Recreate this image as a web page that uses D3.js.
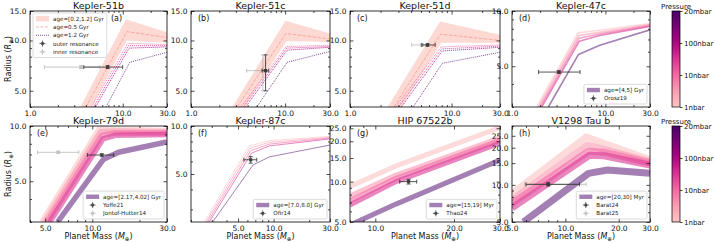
<!DOCTYPE html>
<html>
<head>
<meta charset="utf-8">
<script src="https://cdn.jsdelivr.net/npm/d3@7"></script>
<style>
  body { margin: 0; background: #fff; }
  svg { font-family: "DejaVu Sans", sans-serif; }
</style>
</head>
<body>
<svg id="fig" width="714" height="243"></svg>
<script>
// ---- panel meta ----
const titles = ["Kepler-51b", "Kepler-51c", "Kepler-51d", "Kepler-47c",
                "Kepler-79d", "Kepler-87c", "HIP 67522b", "V1298 Tau b"];
const letters = ["(a)", "(b)", "(c)", "(d)", "(e)", "(f)", "(g)", "(h)"];
const xDomains = [[1, 30], [1, 30], [1, 30], [1, 30], [4, 30], [2, 30], [8, 30], [5, 30]];
const yDomains = [[4, 15], [4, 15], [4, 15], [3, 10], [3, 10], [2.5, 10], [5, 26], [5, 30]];
const xTicks = [[1, 10, 30], [1, 10, 30], [1, 10, 30], [1, 10, 30], [5, 10, 30], [5, 10, 30], [10, 20, 30], [5, 10, 20, 30]];
const yTicks = [[5, 10, 15], [5, 10, 15], [5, 10, 15], [5, 10], [5, 10], [5, 10], [5, 10, 15, 20, 25], [5, 10, 15, 20, 25]];
const ageLabels = ["age=[0.2,1.2] Gyr", "", "", "age=[4,5] Gyr", "age=[2.17,4.02] Gyr",
                   "age=[7.0,8.0] Gyr", "age=[15,19] Myr", "age=[20,30] Myr"];
const obsLabels = [["outer resonance", "inner resonance"], [], [], ["Orosz19"],
                   ["Yoffe21", "Jontof-Hutter14"], ["Ofir14"], ["Thao24"], ["Barat24", "Barat25"]];
const pressureLabels = ["1nbar", "10nbar", "100nbar", "20mbar"];

// ---- model curves, [mass, radius] ----
// Kepler-51b
const k51bBandHi = [[3.5, 4], [10.8, 13.4], [30, 11.2]];
const k51bBandLo = [[4.6, 4], [11.0, 10.0], [30, 9.7]];
const k51bDashed = [[4.0, 4], [11.1, 11.3], [30, 10.4]];
const k51bDotted = [
  [[4.6, 4], [11.3, 9.6], [30, 9.45]],
  [[4.85, 4], [11.5, 9.3], [30, 9.3]],
  [[5.1, 4], [11.7, 9.0], [30, 9.15]],
  [[6.6, 4], [11.9, 7.4], [30, 8.5]]
];
// Kepler-51c
const k51cBandHi = [[2.75, 4], [10.1, 13.1], [30, 11.0]];
const k51cBandLo = [[3.7, 4], [10.3, 9.9], [30, 9.8]];
const k51cDashed = [[3.1, 4], [10.2, 11.0], [30, 10.2]];
const k51cDotted = [
  [[3.4, 4], [10.3, 9.2], [30, 9.35]],
  [[3.6, 4], [10.4, 9.0], [30, 9.2]],
  [[3.8, 4], [10.5, 8.75], [30, 9.1]],
  [[5.0, 4], [10.5, 7.4], [30, 8.6]]
];
// Kepler-51d
const k51dBandHi = [[2.35, 4], [7.7, 13.0], [30, 10.8]];
const k51dBandLo = [[3.2, 4], [7.9, 9.7], [30, 9.7]];
const k51dDashed = [[2.7, 4], [7.8, 10.9], [30, 10.0]];
const k51dDotted = [
  [[2.8, 4], [7.9, 9.15], [30, 9.4]],
  [[3.0, 4], [8.0, 8.9], [30, 9.25]],
  [[3.2, 4], [8.1, 8.65], [30, 9.1]],
  [[4.2, 4], [8.1, 7.3], [30, 8.5]]
];
// Kepler-47c
const k47cLines = [
  [[1.84, 3], [5.1, 7.6], [8.7, 7.85], [30, 8.55]],
  [[1.92, 3], [5.15, 7.35], [8.7, 7.65], [30, 8.45]],
  [[2.0, 3], [5.2, 7.1], [8.7, 7.5], [30, 8.35]],
  [[2.08, 3], [5.25, 6.85], [8.7, 7.35], [30, 8.25]],
  [[2.45, 3], [5.15, 5.8], [8.7, 6.5], [30, 7.9]]
];
// Kepler-79d
const k79dBands = [
  [[4.75, 3], [11.1, 9.7], [14, 9.6], [30, 9.45]],
  [[4.95, 3], [11.3, 9.3], [14, 9.4], [30, 9.3]],
  [[5.15, 3], [11.5, 8.9], [14, 9.15], [30, 9.15]],
  [[5.35, 3], [11.7, 8.5], [14, 8.9], [30, 9.0]],
  [[6.0, 3], [11.8, 6.6], [14.7, 7.2], [30, 8.2]]
];
// Kepler-87c
const k87cLines = [
  [[2.6, 2.5], [6.2, 7.5], [9.2, 8.1], [30, 8.6]],
  [[2.68, 2.5], [6.3, 7.25], [9.2, 7.9], [30, 8.5]],
  [[2.76, 2.5], [6.4, 7.0], [9.2, 7.7], [30, 8.4]],
  [[2.85, 2.5], [6.5, 6.75], [9.2, 7.5], [30, 8.3]],
  [[3.05, 2.5], [6.7, 5.7], [9.2, 6.4], [30, 7.6]]
];
// HIP 67522b
const hipBands = [
  [[8, 9.2], [12, 13.1], [30, 25.3]],
  [[8, 7.8], [12, 11.2], [30, 21.2]],
  [[8, 7.2], [12, 10.6], [30, 20.3]],
  [[8, 6.7], [12, 10.0], [30, 19.4]],
  [[8, 4.75], [12, 6.8], [30, 14.5]]
];
// V1298 Tau b
const v1298Bands = [
  [[5, 8.5], [13.1, 24.4], [30, 16.0]],
  [[5, 7.5], [13.3, 21.0], [30, 15.4]],
  [[5, 7.1], [13.5, 18.7], [16.5, 18.4], [30, 15.0]],
  [[5, 6.5], [13.7, 17.4], [16.5, 17.2], [30, 14.5]],
  [[5.8, 5], [13.5, 12.4], [17.3, 13.2], [30, 12.4]]
];

// ---- observations: [mass, mass lo, mass hi, radius, radius lo, radius hi] ----
const k51bOuter = [6.87, 3.8, 9.97, 6.93, 6.8, 7.06];
const k51bInner = [3.55, 1.43, 5.67, 6.93, 6.8, 7.06];
const k51cOuter = [6.2, 5.7, 6.7, 6.6, 5.0, 8.2];
const k51cInner = [5.8, 3.9, 6.3, 6.6, 5.0, 8.2];
const k51dOuter = [5.8, 5.1, 6.9, 9.4, 9.25, 9.55];
const k51dInner = [5.1, 4.05, 5.8, 9.4, 9.25, 9.55];
const k47cOrosz19 = [3.17, 1.92, 5.35, 4.65, 4.57, 4.73];
const k79dYoffe21 = [11.5, 9.3, 13.7, 6.95, 6.85, 7.05];
const k79dJontof14 = [6.05, 4.47, 8.2, 7.19, 7.09, 7.29];
const k87cOfir14 = [6.4, 5.6, 7.2, 6.14, 5.85, 6.43];
const hipThao24 = [13.4, 12.4, 14.4, 10.0, 9.6, 10.4];
const v1298Barat24 = [8.0, 6.0, 12.0, 10.1, 9.8, 10.4];
const v1298Barat25 = [8.0, 5.9, 13.1, 10.1, 9.8, 10.4];

const panels = [
  { kind: "res", bandHi: k51bBandHi, bandLo: k51bBandLo, dashed: k51bDashed, dotted: k51bDotted, obs: [k51bOuter, k51bInner] },
  { kind: "res", bandHi: k51cBandHi, bandLo: k51cBandLo, dashed: k51cDashed, dotted: k51cDotted, obs: [k51cOuter, k51cInner] },
  { kind: "res", bandHi: k51dBandHi, bandLo: k51dBandLo, dashed: k51dDashed, dotted: k51dDotted, obs: [k51dOuter, k51dInner] },
  { kind: "lines", lines: k47cLines, obs: [k47cOrosz19] },
  { kind: "lines", lines: k79dBands, obs: [k79dYoffe21, k79dJontof14] },
  { kind: "lines", lines: k87cLines, obs: [k87cOfir14] },
  { kind: "lines", lines: hipBands, obs: [hipThao24] },
  { kind: "lines", lines: v1298Bands, obs: [v1298Barat24, v1298Barat25] }
];

// ---- layout ----
const boxes = [
  [30, 167, 11, 107], [191, 330, 11, 107], [350, 500, 11, 107], [512, 650, 11, 107],
  [30, 167, 126, 222], [191, 330, 126, 222], [350, 500, 126, 222], [512, 650, 126, 222]
];
const lineWidths = [1, 1, 1, 1.6, 5.5, 1.0, 5, 7];
const pinkT = [0.25, 0.38, 0.5, 0.62, 1.0];
const dotT = [0.5, 0.62, 0.74, 1.0];
const cbBoxes = [[672, 680, 11, 107], [672, 680, 126, 222]];

const svg = d3.select("#fig");
const defs = svg.append("defs");
const fmt = d3.format(".1f");
const cmap = t => d3.interpolateRdPu(t);
const SALMON = "#fa8072";

function minorTicks(dom, majors) {
  const out = [];
  for (let e = -1; e <= 3; e++) {
    for (let k = 1; k <= 9; k++) {
      const v = Math.round(k * Math.pow(10, e) * 1000) / 1000;
      if (v >= dom[0] - 1e-9 && v <= dom[1] + 1e-9 && !majors.includes(v)) out.push(v);
    }
  }
  return out;
}

function errbar(g, x, y, o, dark) {
  const [m, mlo, mhi, r, rlo, rhi] = o;
  const col = dark ? "#222" : "#999";
  const e = g.append("g").attr("stroke", col).attr("stroke-width", 0.9)
    .attr("opacity", dark ? 0.85 : 0.6);
  e.append("line").attr("x1", x(mlo)).attr("x2", x(mhi)).attr("y1", y(r)).attr("y2", y(r));
  e.append("line").attr("x1", x(m)).attr("x2", x(m)).attr("y1", y(rlo)).attr("y2", y(rhi));
  [mlo, mhi].forEach(v => e.append("line").attr("x1", x(v)).attr("x2", x(v))
    .attr("y1", y(r) - 2).attr("y2", y(r) + 2));
  [rlo, rhi].forEach(v => e.append("line").attr("x1", x(m) - 2).attr("x2", x(m) + 2)
    .attr("y1", y(v)).attr("y2", y(v)));
  e.append("rect").attr("x", x(m) - 1.6).attr("y", y(r) - 1.6).attr("width", 3.2).attr("height", 3.2)
    .attr("fill", col).attr("stroke", "none");
}

function legend(g, box, items, anchor) {
  const [x0, x1, y0, y1] = box;
  const fs = 5.6, rowH = 8.3, hw = 13, pad = 3;
  const lg = g.append("g").attr("font-size", fs);
  const tmp = lg.append("text");
  let w = 0;
  items.forEach(it => { tmp.text(it.label); w = Math.max(w, tmp.node().getComputedTextLength()); });
  tmp.remove();
  const bw = pad + hw + 4 + w + pad, bh = items.length * rowH + 3;
  const bx = anchor === "ul" ? x0 + 3 : x1 - 3 - bw;
  const by = anchor === "ul" ? y0 + 2 : y1 - 3 - bh;
  lg.append("rect").attr("x", bx).attr("y", by).attr("width", bw).attr("height", bh)
    .attr("rx", 1.5).attr("fill", "#fff").attr("fill-opacity", 0.85)
    .attr("stroke", "#ccc").attr("stroke-width", 0.7);
  items.forEach((it, k) => {
    const cy = by + 1.5 + rowH * (k + 0.5);
    const hx = bx + pad;
    if (it.type === "patch") {
      lg.append("rect").attr("x", hx).attr("y", cy - 2.8).attr("width", hw).attr("height", 5.6)
        .attr("fill", SALMON).attr("opacity", 0.3);
    } else if (it.type === "dash") {
      lg.append("line").attr("x1", hx).attr("x2", hx + hw).attr("y1", cy).attr("y2", cy)
        .attr("stroke", SALMON).attr("stroke-opacity", 0.55).attr("stroke-dasharray", "3,1.5");
    } else if (it.type === "dot") {
      lg.append("line").attr("x1", hx).attr("x2", hx + hw).attr("y1", cy).attr("y2", cy)
        .attr("stroke", cmap(1)).attr("stroke-opacity", 0.7).attr("stroke-dasharray", "1,1");
    } else if (it.type === "thick") {
      lg.append("rect").attr("x", hx).attr("y", cy - 2.2).attr("width", hw).attr("height", 4.4)
        .attr("fill", cmap(1)).attr("opacity", 0.5);
    } else {
      const col = it.dark ? "#222" : "#999";
      const e = lg.append("g").attr("stroke", col).attr("stroke-width", 0.8).attr("opacity", it.dark ? 0.85 : 0.6);
      const cx = hx + hw / 2;
      e.append("line").attr("x1", cx - 3).attr("x2", cx + 3).attr("y1", cy).attr("y2", cy);
      e.append("line").attr("x1", cx).attr("x2", cx).attr("y1", cy - 3).attr("y2", cy + 3);
      e.append("rect").attr("x", cx - 1.3).attr("y", cy - 1.3).attr("width", 2.6).attr("height", 2.6)
        .attr("fill", col).attr("stroke", "none");
    }
    lg.append("text").attr("x", hx + hw + 4).attr("y", cy).attr("dy", "0.35em")
      .attr("fill", "#222").text(it.label);
  });
}

function axisStyle(sel) {
  sel.select(".domain").remove();
  sel.attr("font-family", "DejaVu Sans").attr("font-size", 7.5);
  sel.selectAll("line").attr("stroke-width", 0.7);
  sel.selectAll("text").attr("fill", "#111");
}

panels.forEach((p, i) => {
  const [x0, x1, y0, y1] = boxes[i];
  const x = d3.scaleLog().domain(xDomains[i]).range([x0, x1]);
  const y = d3.scaleLog().domain(yDomains[i]).range([y1, y0]);
  const line = d3.line().x(d => x(d[0])).y(d => y(d[1]));
  defs.append("clipPath").attr("id", "clip" + i).append("rect")
    .attr("x", x0).attr("y", y0).attr("width", x1 - x0).attr("height", y1 - y0);
  const g = svg.append("g");
  const plot = g.append("g").attr("clip-path", `url(#clip${i})`);

  if (p.kind === "res") {
    plot.append("path").datum(p.bandHi.concat(p.bandLo.slice().reverse()))
      .attr("d", d => line(d) + "Z").attr("fill", SALMON).attr("opacity", 0.3);
    plot.append("path").datum(p.dashed).attr("d", line).attr("fill", "none")
      .attr("stroke", SALMON).attr("stroke-opacity", 0.55).attr("stroke-width", 1)
      .attr("stroke-dasharray", "3.5,1.5");
    p.dotted.forEach((ln, k) => {
      plot.append("path").datum(ln).attr("d", line).attr("fill", "none")
        .attr("stroke", cmap(dotT[k])).attr("stroke-opacity", k === 3 ? 0.7 : 0.9)
        .attr("stroke-width", 1).attr("stroke-dasharray", "1,1");
    });
  } else {
    p.lines.forEach((ln, k) => {
      plot.append("path").datum(ln).attr("d", line).attr("fill", "none")
        .attr("stroke", cmap(pinkT[k])).attr("stroke-opacity", k === 4 ? 0.5 : 0.6)
        .attr("stroke-width", lineWidths[i]).attr("stroke-linejoin", "round");
    });
  }

  // observations: light one under dark one
  p.obs.slice().reverse().forEach((o, k) => {
    const dark = (p.obs.length - 1 - k) === 0;
    errbar(plot, x, y, o, dark);
  });

  // frame
  g.append("rect").attr("x", x0).attr("y", y0).attr("width", x1 - x0).attr("height", y1 - y0)
    .attr("fill", "none").attr("stroke", "#000").attr("stroke-width", 0.8);

  // axes with inward ticks on all sides
  const xMin = minorTicks(xDomains[i], xTicks[i]);
  const yMin = minorTicks(yDomains[i], yTicks[i]);
  g.append("g").attr("transform", `translate(0,${y1})`)
    .call(d3.axisBottom(x).tickValues(xTicks[i]).tickSize(-3.5).tickPadding(3.5).tickFormat(fmt)).call(axisStyle);
  g.append("g").attr("transform", `translate(0,${y1})`)
    .call(d3.axisBottom(x).tickValues(xMin).tickSize(-2).tickFormat("")).call(axisStyle);
  g.append("g").attr("transform", `translate(0,${y0})`)
    .call(d3.axisTop(x).tickValues(xTicks[i]).tickSize(-3.5).tickFormat("")).call(axisStyle);
  g.append("g").attr("transform", `translate(0,${y0})`)
    .call(d3.axisTop(x).tickValues(xMin).tickSize(-2).tickFormat("")).call(axisStyle);
  g.append("g").attr("transform", `translate(${x0},0)`)
    .call(d3.axisLeft(y).tickValues(yTicks[i]).tickSize(-3.5).tickPadding(3.5).tickFormat(fmt)).call(axisStyle);
  g.append("g").attr("transform", `translate(${x0},0)`)
    .call(d3.axisLeft(y).tickValues(yMin).tickSize(-2).tickFormat("")).call(axisStyle);
  g.append("g").attr("transform", `translate(${x1},0)`)
    .call(d3.axisRight(y).tickValues(yTicks[i]).tickSize(-3.5).tickFormat("")).call(axisStyle);
  g.append("g").attr("transform", `translate(${x1},0)`)
    .call(d3.axisRight(y).tickValues(yMin).tickSize(-2).tickFormat("")).call(axisStyle);

  // title and panel letter
  g.append("text").attr("x", (x0 + x1) / 2).attr("y", y0 - 2.5).attr("text-anchor", "middle")
    .attr("font-size", 9.5).attr("fill", "#111").text(titles[i]);
  g.append("text").attr("x", i === 0 ? x0 + 81 : x0 + 7).attr("y", y0 + 10)
    .attr("font-size", 8).attr("fill", "#111").text(letters[i]);

  // legend
  let items;
  if (i === 0) {
    items = [
      { type: "patch", label: ageLabels[0] },
      { type: "dash", label: "age=0.5 Gyr" },
      { type: "dot", label: "age=1.2 Gyr" },
      { type: "err", dark: true, label: obsLabels[0][0] },
      { type: "err", dark: false, label: obsLabels[0][1] }
    ];
    legend(g, boxes[i], items, "ul");
  } else if (ageLabels[i]) {
    items = [{ type: "thick", label: ageLabels[i] }]
      .concat(obsLabels[i].map((l, k) => ({ type: "err", dark: k === 0, label: l })));
    legend(g, boxes[i], items, "lr");
  }

  // axis labels
  if (i % 4 === 0) {
    const t = g.append("text").attr("transform", `translate(11,${(y0 + y1) / 2}) rotate(-90)`)
      .attr("text-anchor", "middle").attr("font-size", 8).attr("fill", "#111");
    t.append("tspan").text("Radius (");
    t.append("tspan").attr("font-style", "italic").text("R");
    t.append("tspan").attr("font-size", 5.5).attr("dy", 1.5).text("⊕");
    t.append("tspan").attr("dy", -1.5).text(")");
  }
  if (i >= 4) {
    const t = g.append("text").attr("x", (x0 + x1) / 2).attr("y", 239)
      .attr("text-anchor", "middle").attr("font-size", 8).attr("fill", "#111");
    t.append("tspan").text("Planet Mass (");
    t.append("tspan").attr("font-style", "italic").text("M");
    t.append("tspan").attr("font-size", 5.5).attr("dy", 1.5).text("⊕");
    t.append("tspan").attr("dy", -1.5).text(")");
  }
});

// ---- colorbars ----
const grad = defs.append("linearGradient").attr("id", "cbgrad")
  .attr("x1", 0).attr("x2", 0).attr("y1", 1).attr("y2", 0);
d3.range(0, 1.0001, 0.05).forEach(f => {
  grad.append("stop").attr("offset", f).attr("stop-color", cmap(0.25 + 0.75 * f));
});
cbBoxes.forEach(([cx0, cx1, cy0, cy1]) => {
  const g = svg.append("g");
  g.append("rect").attr("x", cx0).attr("y", cy0).attr("width", cx1 - cx0).attr("height", cy1 - cy0)
    .attr("fill", "url(#cbgrad)").attr("stroke", "#000").attr("stroke-width", 0.7);
  const s = d3.scaleLinear().domain([0, pressureLabels.length - 1]).range([cy1, cy0]);
  g.append("g").attr("transform", `translate(${cx1},0)`)
    .call(d3.axisRight(s).tickValues(d3.range(pressureLabels.length)).tickSize(2.5).tickPadding(1.5)
      .tickFormat(k => pressureLabels[k]))
    .call(axisStyle).attr("font-size", 7);
  g.append("text").attr("x", (cx0 + cx1) / 2).attr("y", cy0 - 2).attr("text-anchor", "middle")
    .attr("font-size", 7).attr("fill", "#111").text("Pressure");
});
</script>
</body>
</html>
